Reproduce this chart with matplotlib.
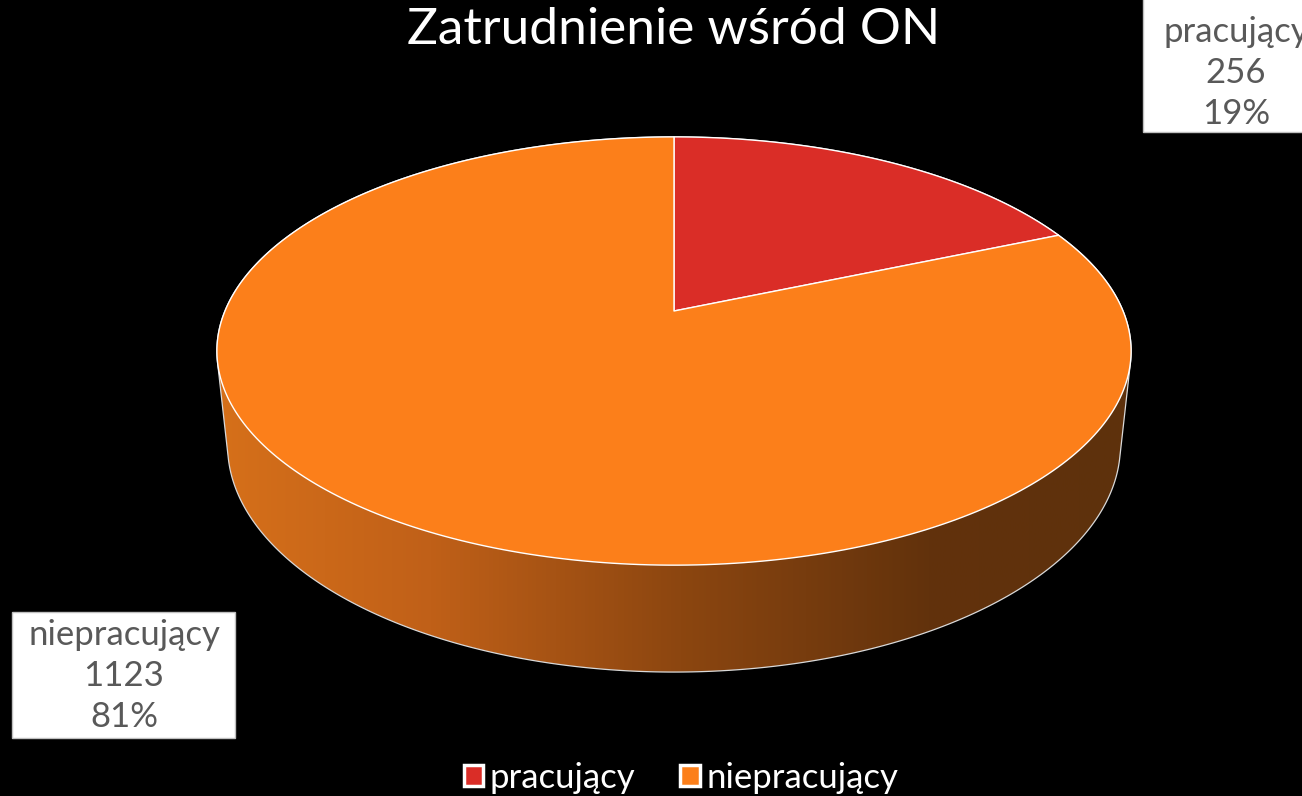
import numpy as np
import matplotlib
matplotlib.use("Agg")
import matplotlib.pyplot as plt
from matplotlib.patches import Polygon, Patch, Rectangle
from matplotlib.colors import LinearSegmentedColormap

title = "Zatrudnienie wśród ON"
labels = ["pracujący", "niepracujący"]
counts = [256, 1123]
colors = ["#DA2D27", "#FC7F1A"]

W, H = 1302, 796

# simple perspective camera looking down at the disc (radius = 1)
tilt = np.radians(27.4)
dist = 4.75
focal = 2133.0
thick = 0.239
cx, cy = 674, 311


def project(x, y, z):
    depth = y * np.cos(tilt) - z * np.sin(tilt) + dist
    sx = cx + focal * x / depth
    sy = cy - focal * (y * np.sin(tilt) + z * np.cos(tilt)) / depth
    return sx, sy


def convex_hull(pts):
    pts = sorted(set(map(tuple, pts)))
    def cross(o, a, b):
        return (a[0] - o[0]) * (b[1] - o[1]) - (a[1] - o[1]) * (b[0] - o[0])
    lower, upper = [], []
    for p in pts:
        while len(lower) >= 2 and cross(lower[-2], lower[-1], p) <= 0:
            lower.pop()
        lower.append(p)
    for p in reversed(pts):
        while len(upper) >= 2 and cross(upper[-2], upper[-1], p) <= 0:
            upper.pop()
        upper.append(p)
    return np.array(lower[:-1] + upper[:-1])


total = sum(counts)
fracs = [c / total for c in counts]
bounds = 90 - 360 * np.concatenate([[0], np.cumsum(fracs)])

fig = plt.figure(figsize=(W / 100, H / 100), dpi=100, facecolor="black")
ax = fig.add_axes([0, 0, 1, 1])
ax.set_xlim(0, W)
ax.set_ylim(H, 0)
ax.set_facecolor("black")
ax.axis("off")

# --- side wall: gradient clipped to the outline of the whole cylinder ---
t = np.radians(np.linspace(0, 360, 721))
tx, ty = project(np.cos(t), np.sin(t), 0.0)
bx, by = project(np.cos(t), np.sin(t), -thick)
hull = convex_hull(np.round(np.column_stack([np.r_[tx, bx], np.r_[ty, by]]), 3))
side = Polygon(hull, closed=True, fc="none", ec="#d9d9d9", lw=0.9, zorder=2)
ax.add_patch(side)

x0, x1 = hull[:, 0].min(), hull[:, 0].max()
stops_x = [230, 430, 680, 930, 1120]
stops_c = ["#D6701A", "#C06018", "#8C4610", "#62320C", "#5E310C"]
pos = [(min(max(s, x0), x1) - x0) / (x1 - x0) for s in stops_x]
pos[0], pos[-1] = 0.0, 1.0
shade = LinearSegmentedColormap.from_list("side", list(zip(pos, stops_c)))
grad = np.linspace(0, 1, 512)[None, :]
img = ax.imshow(grad, cmap=shade, aspect="auto", interpolation="bilinear",
                extent=[x0, x1, hull[:, 1].max(), hull[:, 1].min()], zorder=1)
img.set_clip_path(side)

# --- top face wedges ---
for i, col in enumerate(colors):
    th = np.radians(np.linspace(bounds[i], bounds[i + 1], 300))
    px, py = project(np.cos(th), np.sin(th), 0.0)
    ox, oy = project(0.0, 0.0, 0.0)
    verts = np.column_stack([np.r_[ox, px], np.r_[oy, py]])
    ax.add_patch(Polygon(verts, closed=True, fc=col, ec="white", lw=1.0,
                         joinstyle="round", zorder=3))

# --- data labels in white boxes ---
font = "Lato"
label_boxes = [(1143, -2, 170, 134), (12, 612, 223, 126)]
label_pos = [(1236, 73), (124, 676)]
for (rx, ry, rw, rh), (lx, ly), name, c, f in zip(label_boxes, label_pos,
                                                   labels, counts, fracs):
    ax.add_patch(Rectangle((rx, ry), rw, rh, fc="white", ec="#bfbfbf", lw=1,
                           zorder=4))
    ax.text(lx, ly, f"{name}\n{c}\n{round(f * 100)}%", ha="center", va="center",
            fontsize=25, color="#595959", family=font, linespacing=1.36,
            zorder=5)

ax.text(674, 30, title, ha="center", va="center", fontsize=37, color="white",
        family=font, zorder=5)

handles = [Patch(fc=c, ec="white", lw=2.5) for c in colors]
leg = fig.legend(handles, labels, loc="center", bbox_to_anchor=(681 / W, 1 - 778 / H),
                 ncol=2, frameon=False, prop={"family": font, "size": 25},
                 labelcolor="white", handlelength=0.55, handleheight=0.55,
                 handletextpad=0.2, columnspacing=1.3)

fig.savefig("out.png", dpi=100, facecolor="black")
